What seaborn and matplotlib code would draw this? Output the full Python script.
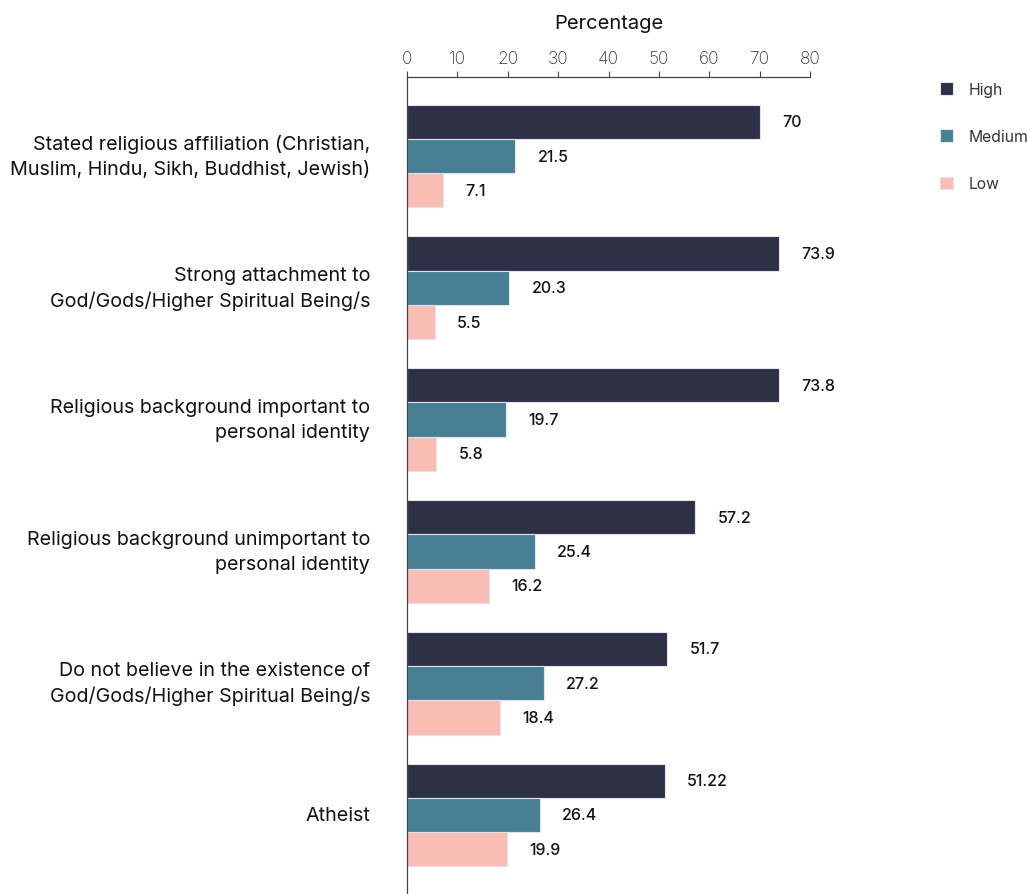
import matplotlib
matplotlib.use("Agg")
import matplotlib.pyplot as plt
import seaborn as sns
import pandas as pd

categories = [
    "Stated religious affiliation (Christian,\nMuslim, Hindu, Sikh, Buddhist, Jewish)",
    "Strong attachment to\nGod/Gods/Higher Spiritual Being/s",
    "Religious background important to\npersonal identity",
    "Religious background unimportant to\npersonal identity",
    "Do not believe in the existence of\nGod/Gods/Higher Spiritual Being/s",
    "Atheist",
]
high = [70, 73.9, 73.8, 57.2, 51.7, 51.22]
medium = [21.5, 20.3, 19.7, 25.4, 27.2, 26.4]
low = [7.1, 5.5, 5.8, 16.2, 18.4, 19.9]
levels = ["High", "Medium", "Low"]
high_lbl = ["70", "73.9", "73.8", "57.2", "51.7", "51.22"]
colors = ["#2e3047", "#477f95", "#f9bdb6"]

rows = []
for i, c in enumerate(categories):
    for lvl, vals in zip(levels, [high, medium, low]):
        rows.append({"category": c, "level": lvl, "value": vals[i]})
df = pd.DataFrame(rows)

sns.set_theme(style="white")
plt.rcParams["font.family"] = ["Inter", "DejaVu Sans"]

fig = plt.figure(figsize=(10.27, 8.95), dpi=100)
ax = fig.add_axes([407 / 1027, 0.0, (810 - 407) / 1027, 1 - 78 / 895])

sns.barplot(data=df, y="category", x="value", hue="level", orient="h",
            hue_order=levels, palette=colors, saturation=1, width=0.78,
            edgecolor="#e2e2ea", linewidth=0.8, ax=ax, legend=True)

ax.set_xlim(0, 80)
ax.set_ylim(5.6, -0.6)
ax.xaxis.tick_top()
ax.xaxis.set_label_position("top")
ax.set_xticks(range(0, 81, 10))
ax.set_xlabel("Percentage", fontsize=14.5, labelpad=16, color="#111111")
ax.set_ylabel("")
ax.tick_params(axis="x", labelsize=12.5, colors="#444444", length=4, width=0.8,
               pad=3, labelcolor="#333333")
ax.tick_params(axis="y", labelsize=14.2, length=4, width=0.8, pad=22.5,
               colors="#444444", labelcolor="#111111")
for lab in ax.get_xticklabels():
    lab.set_fontweight("light")
for lab in ax.get_yticklabels():
    lab.set_linespacing(1.45)
    lab.set_verticalalignment("center")

for side in ["right", "bottom"]:
    ax.spines[side].set_visible(False)
for side in ["top", "left"]:
    ax.spines[side].set_color("#444444")
    ax.spines[side].set_linewidth(0.9)

# value labels next to each bar
label_sets = {"High": high_lbl,
              "Medium": [str(v) for v in medium],
              "Low": [str(v) for v in low]}
for cont, lvl in zip(ax.containers, levels):
    ax.bar_label(cont, labels=label_sets[lvl], padding=16, fontsize=11.5,
                 fontweight="medium", color="#111111")

leg = ax.legend(loc="upper left", bbox_to_anchor=(932 / 1027, 1 - 75 / 895),
                bbox_transform=fig.transFigure, frameon=False, fontsize=11.3,
                handlelength=0.85, handleheight=0.85, labelspacing=2.05,
                handletextpad=1.0, borderpad=0)
for t in leg.get_texts():
    t.set_color("#333333")

fig.savefig("out.png", dpi=100)
